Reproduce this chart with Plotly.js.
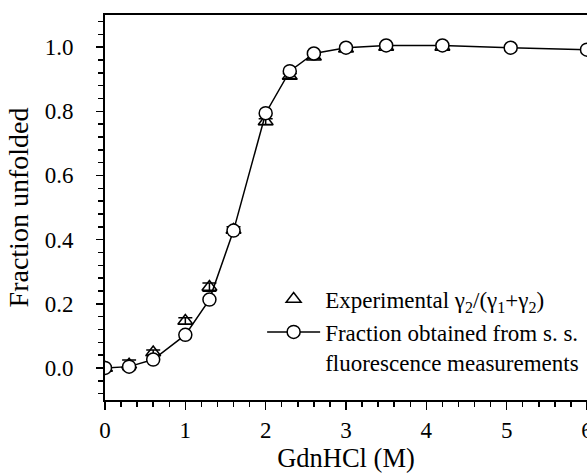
<!DOCTYPE html>
<html>
<head>
<meta charset="utf-8">
<script src="https://cdn.plot.ly/plotly-3.0.1.min.js"></script>
<style>html,body{margin:0;padding:0;background:#fff;}#chart{width:587px;height:474px;}</style>
</head>
<body>
<div id="chart"></div>
<script>
var xFluor = [0, 0.3, 0.6, 1.0, 1.3, 1.6, 2.0, 2.3, 2.6, 3.0, 3.5, 4.2, 5.05, 6.0];
var yFluor = [0.0, 0.004, 0.026, 0.103, 0.213, 0.428, 0.794, 0.925, 0.980, 0.998, 1.005, 1.005, 0.998, 0.992];
var xExp = [0, 0.3, 0.6, 1.0, 1.3, 1.6, 2.0, 2.3, 2.6, 3.0, 3.5, 4.2];
var yExp = [0.0, 0.01, 0.048, 0.146, 0.252, 0.43, 0.768, 0.91, 0.97, 0.995, 1.0, 1.0];
var errExp = [0.005, 0.015, 0.008, 0.01, 0.013, 0.01, 0.009, 0.008, 0.006, 0.004, 0.004, 0.004];
var nameExp = 'Experimental γ<sub>2</sub>/(γ<sub>1</sub>+γ<sub>2</sub>)';
var nameFluor = 'Fraction obtained from s. s.<br>fluorescence measurements';

var font = 'Liberation Serif, Times New Roman, serif';

var traces = [
  {
    x: xExp, y: yExp, type: 'scatter', mode: 'markers', name: nameExp,
    marker: {symbol: 'triangle-up-open', size: 13, color: '#000', line: {width: 1.5, color: '#000'}},
    error_y: {type: 'data', array: errExp, visible: true, color: '#000', thickness: 1.5, width: 7}
  },
  {
    x: xFluor, y: yFluor, type: 'scatter', mode: 'lines+markers', name: nameFluor,
    line: {color: '#000', width: 1.5},
    marker: {symbol: 'circle', size: 13, color: '#fff', line: {width: 1.5, color: '#000'}}
  }
];

var layout = {
  width: 587, height: 474,
  margin: {l: 105, r: 0, t: 15, b: 74, autoexpand: false},
  paper_bgcolor: '#fff', plot_bgcolor: '#fff',
  font: {family: font, size: 23, color: '#000'},
  showlegend: true,
  legend: {
    x: 0.326, y: 0.318, xanchor: 'left', yanchor: 'top',
    bgcolor: 'rgba(0,0,0,0)', font: {family: font, size: 23, color: '#000'},
    valign: 'top', itemwidth: 53, tracegroupgap: 0
  },
  xaxis: {
    range: [0, 6], showgrid: false, zeroline: false, automargin: false,
    showline: true, linecolor: '#000', linewidth: 2, mirror: true,
    ticks: 'outside', ticklen: 8, tickwidth: 1.5, tickcolor: '#000',
    dtick: 1, tick0: 0, tickformat: 'd', ticklabelstandoff: 0, ticklabeloverflow: 'allow',
    minor: {dtick: 0.2, tick0: 0, ticks: 'outside', ticklen: 5, tickwidth: 1.5, tickcolor: '#000'},
    title: {text: 'GdnHCl (M)', font: {family: font, size: 26.5}, standoff: 3}
  },
  yaxis: {
    range: [-0.1, 1.1], showgrid: false, zeroline: false, automargin: false,
    showline: true, linecolor: '#000', linewidth: 2, mirror: false,
    ticks: 'outside', ticklen: 7, tickwidth: 1.5, tickcolor: '#000',
    dtick: 0.2, tick0: 0, tickformat: '.1f', ticklabelstandoff: 18,
    minor: {dtick: 0.04, tick0: 0, ticks: 'outside', ticklen: 5, tickwidth: 1.5, tickcolor: '#000'},
    title: {text: 'Fraction unfolded', font: {family: font, size: 28}, standoff: 8}
  }
};

Plotly.newPlot('chart', traces, layout, {displayModeBar: false, staticPlot: true});
</script>
</body>
</html>
